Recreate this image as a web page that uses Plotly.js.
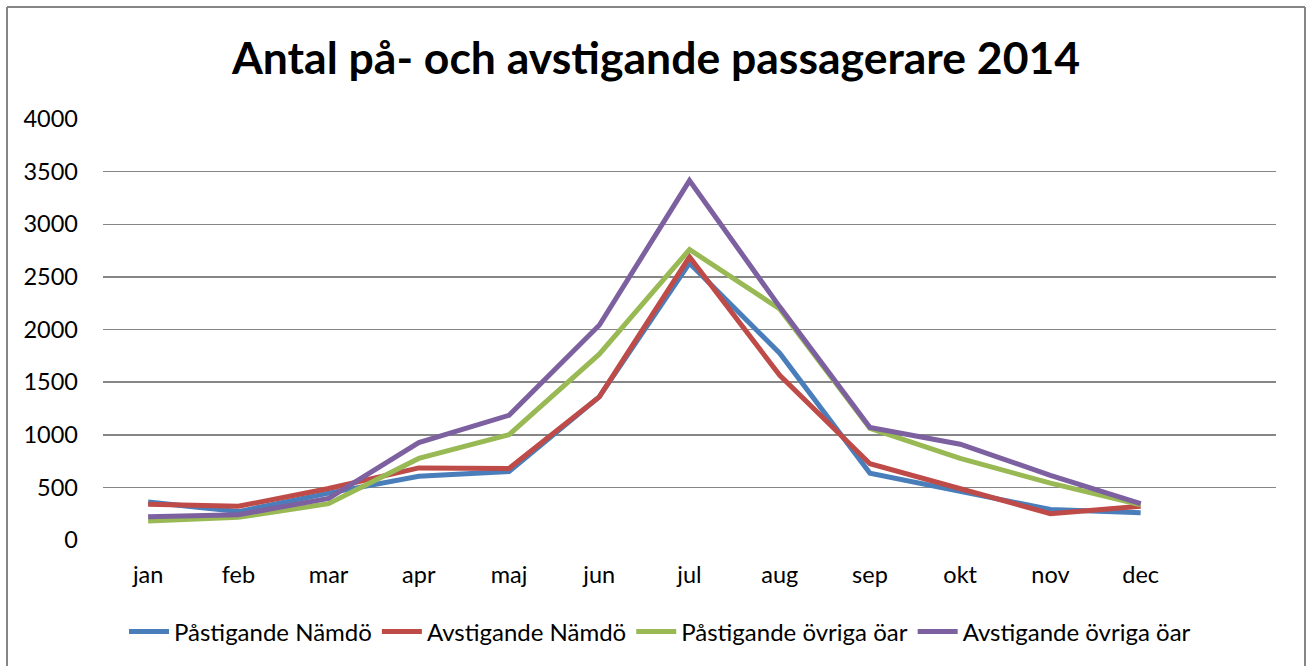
<!DOCTYPE html>
<html>
<head>
<meta charset="utf-8">
<script src="https://cdn.plot.ly/plotly-3.0.1.min.js"></script>
<style>
html,body{margin:0;padding:0;background:#fff;}
#chart{width:1309px;height:666px;}
</style>
</head>
<body>
<div id="chart"></div>
<script>
const months = ["jan","feb","mar","apr","maj","jun","jul","aug","sep","okt","nov","dec"];
const pastigandeNamdo = [360, 270, 445, 605, 650, 1360, 2630, 1775, 635, 460, 290, 260];
const avstigandeNamdo = [340, 320, 490, 685, 680, 1360, 2690, 1565, 725, 490, 250, 320];
const pastigandeOvriga = [180, 215, 345, 775, 1000, 1765, 2760, 2195, 1060, 775, 540, 335];
const avstigandeOvriga = [220, 240, 395, 925, 1185, 2040, 3415, 2215, 1070, 910, 615, 345];
const seriesNames = ["Påstigande Nämdö","Avstigande Nämdö","Påstigande övriga öar","Avstigande övriga öar"];
const seriesColors = ["#4A7EBB","#BE4B48","#98B954","#7D60A0"];
const seriesValues = [pastigandeNamdo, avstigandeNamdo, pastigandeOvriga, avstigandeOvriga];
const yTicks = [0,500,1000,1500,2000,2500,3000,3500,4000];

const FONT = "Lato, 'Open Sans', sans-serif";
const xIdx = months.map((m,i)=>i);

const traces = seriesValues.map((vals,k)=>({
  type:"scatter", mode:"lines", name:seriesNames[k],
  x:xIdx, y:vals,
  line:{color:seriesColors[k], width:5}
}));

// plot area: x 103..1276, y 119..540
const L=103, R=1276, T=119, B=540, W=R-L, H=B-T;
const px=(x)=>(x-L)/W, py=(y)=>(B-y)/H;

const layout = {
  width:1309, height:666,
  margin:{l:L, r:1309-R, t:T, b:666-B, pad:0},
  paper_bgcolor:"#fff", plot_bgcolor:"#fff",
  font:{family:FONT, color:"#000", size:24},
  title:{text:"<b>Antal på- och avstigande passagerare 2014</b>",
         font:{family:FONT, size:44.5, color:"#000"},
         x:656/1309, xanchor:"center", xref:"container",
         y:1-58/666, yanchor:"middle", yref:"container"},
  xaxis:{range:[-0.5,12.5], tickvals:xIdx, ticktext:months,
         showgrid:false, zeroline:false, showline:false, ticks:"",
         ticklabelstandoff:18, tickfont:{family:FONT,size:23.5,color:"#000"}, fixedrange:true},
  yaxis:{range:[0,4000], tickvals:yTicks, ticktext:yTicks.map(String),
         showgrid:true, gridcolor:"#868686", gridwidth:1.5,
         zeroline:false, showline:false, ticks:"",
         ticklabelstandoff:24, tickfont:{family:FONT,size:23.5,color:"#000"}, fixedrange:true},
  showlegend:true,
  legend:{orientation:"h", x:px(660), xanchor:"center", y:py(632), yanchor:"middle",
          font:{family:FONT,size:24,color:"#000"}, itemwidth:40, tracegroupgap:0,
          bgcolor:"rgba(0,0,0,0)"},
  shapes:[
    {type:"line", xref:"paper", yref:"paper", x0:px(7), x1:px(1305), y0:py(7), y1:py(7), line:{color:"#868686", width:2}},
    {type:"line", xref:"paper", yref:"paper", x0:px(7), x1:px(7), y0:py(7), y1:py(680), line:{color:"#868686", width:2}},
    {type:"line", xref:"paper", yref:"paper", x0:px(1305), x1:px(1305), y0:py(7), y1:py(680), line:{color:"#868686", width:2}}
  ]
};

Plotly.newPlot("chart", traces, layout, {displayModeBar:false, staticPlot:true});
</script>
</body>
</html>
